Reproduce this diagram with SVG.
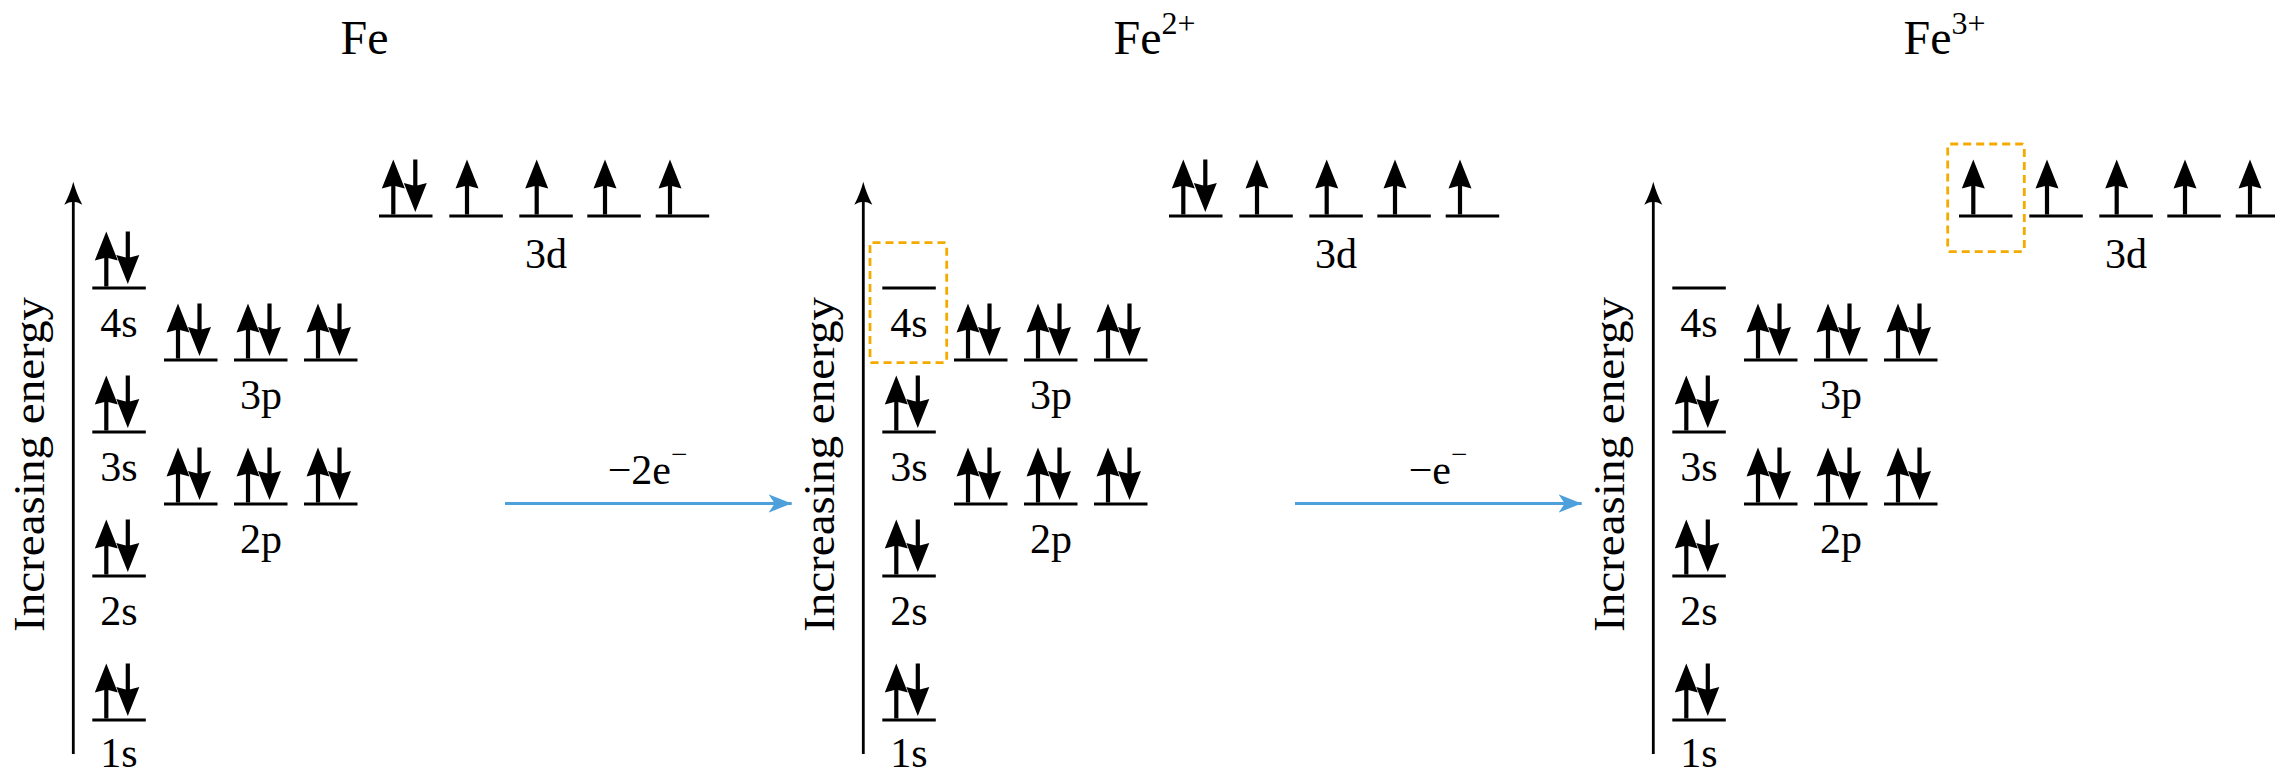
<svg xmlns="http://www.w3.org/2000/svg" xmlns:xlink="http://www.w3.org/1999/xlink" width="2275" height="769" viewBox="0 0 2275 769" font-family="Liberation Serif, DejaVu Serif, Noto Serif, FreeSerif, Nimbus Roman, Times, serif">
  <style>
    text { fill: #000; }
    .title { font-size: 48px; text-anchor: middle; }
    .lbl { font-size: 42px; text-anchor: middle; }
    .axis-lbl { font-size: 45px; text-anchor: middle; }
    .step { font-size: 42px; text-anchor: middle; }
    .lvl { stroke: #000; stroke-width: 3; }
    .shaft { stroke: #000; stroke-width: 4.2; }
    .axis { stroke: #000; stroke-width: 2.8; fill: none; }
    .hilite { fill: none; stroke: #F5AA00; stroke-width: 2.8; stroke-dasharray: 8 5; }
    .flow { stroke: #4EA0DC; stroke-width: 2.8; fill: none; }
  </style>
  <defs>
    <!-- orbital level bar, origin at its left end -->
    <line id="lvl" class="lvl" x1="0" y1="0" x2="53.5" y2="0"/>
    <!-- spin-up electron, origin at shaft x on the level -->
    <g id="eUp">
      <line class="shaft" x1="0" y1="-32" x2="0" y2="-1.5"/>
      <path d="M0,-56.5 L11.5,-27.5 L0,-30.5 L-11.5,-27.5 Z" fill="#000"/>
    </g>
    <!-- spin-down electron -->
    <g id="eDown">
      <line class="shaft" x1="0" y1="-56.5" x2="0" y2="-26"/>
      <path d="M0,-4 L11.5,-33 L0,-30 L-11.5,-33 Z" fill="#000"/>
    </g>
    <!-- filled orbital: paired electrons on a level -->
    <g id="pair">
      <use xlink:href="#lvl"/>
      <use xlink:href="#eUp" x="14" y="0"/>
      <use xlink:href="#eDown" x="35.5" y="0"/>
    </g>
    <!-- energy axis head -->
    <path id="axisHead" d="M0,0 C2,8 5,15 9,23 Q0,17 -9,23 C-5,15 -2,8 0,0 Z" fill="#000"/>
    <marker id="flowHead" markerWidth="24" markerHeight="20" refX="23" refY="10" orient="auto" markerUnits="userSpaceOnUse">
      <path d="M0,1 L23,10 L0,19 L6,10 Z" fill="#4EA0DC"/>
    </marker>
    <!-- energy axis with its caption -->
    <g id="energyAxis">
      <line class="axis" x1="73.3" y1="754" x2="73.3" y2="192"/>
      <use xlink:href="#axisHead" x="73.3" y="181.7"/>
      <text class="axis-lbl" transform="translate(43.5,464.5) rotate(-90)" textLength="335" lengthAdjust="spacingAndGlyphs">Increasing energy</text>
    </g>
  </defs>

  <!-- neutral iron -->
  <g id="fe">
    <text class="title" x="364.5" y="54">Fe</text>
    <use xlink:href="#energyAxis"/>
    <g id="fe-1s"><use xlink:href="#pair" x="92.3" y="720"/><text class="lbl" x="119" y="767">1s</text></g>
    <g id="fe-2s"><use xlink:href="#pair" x="92.3" y="576"/><text class="lbl" x="119" y="624.5">2s</text></g>
    <g id="fe-3s"><use xlink:href="#pair" x="92.3" y="432"/><text class="lbl" x="119" y="480.5">3s</text></g>
    <g id="fe-4s"><use xlink:href="#pair" x="92.3" y="288"/><text class="lbl" x="119" y="336.5">4s</text></g>
    <g id="fe-2p">
      <use xlink:href="#pair" x="164" y="504"/><use xlink:href="#pair" x="234" y="504"/><use xlink:href="#pair" x="304" y="504"/>
      <text class="lbl" x="261" y="552.5">2p</text>
    </g>
    <g id="fe-3p">
      <use xlink:href="#pair" x="164" y="360"/><use xlink:href="#pair" x="234" y="360"/><use xlink:href="#pair" x="304" y="360"/>
      <text class="lbl" x="261" y="408.5">3p</text>
    </g>
    <g id="fe-3d">
      <use xlink:href="#lvl" x="379" y="216"/><use xlink:href="#lvl" x="449.3" y="216"/><use xlink:href="#lvl" x="519.3" y="216"/><use xlink:href="#lvl" x="587.3" y="216"/><use xlink:href="#lvl" x="655.7" y="216"/>
      <use xlink:href="#eUp" x="393.3" y="216"/><use xlink:href="#eDown" x="415.3" y="216"/>
      <use xlink:href="#eUp" x="467" y="216"/><use xlink:href="#eUp" x="536.7" y="216"/><use xlink:href="#eUp" x="605" y="216"/><use xlink:href="#eUp" x="670" y="216"/>
      <text class="lbl" x="546" y="268">3d</text>
    </g>
  </g>

  <!-- iron(II) -->
  <g id="fe2">
    <text class="title" x="1154.5" y="54">Fe<tspan font-size="32" dy="-20">2+</tspan></text>
    <use xlink:href="#energyAxis" x="790"/>
    <g id="fe2-1s"><use xlink:href="#pair" x="882.3" y="720"/><text class="lbl" x="909" y="767">1s</text></g>
    <g id="fe2-2s"><use xlink:href="#pair" x="882.3" y="576"/><text class="lbl" x="909" y="624.5">2s</text></g>
    <g id="fe2-3s"><use xlink:href="#pair" x="882.3" y="432"/><text class="lbl" x="909" y="480.5">3s</text></g>
    <g id="fe2-4s">
      <use xlink:href="#lvl" x="882.3" y="288"/><text class="lbl" x="909" y="336.5">4s</text>
      <rect class="hilite" x="870" y="242.7" width="76.7" height="120" rx="2.5"/>
    </g>
    <g id="fe2-2p">
      <use xlink:href="#pair" x="954" y="504"/><use xlink:href="#pair" x="1024" y="504"/><use xlink:href="#pair" x="1094" y="504"/>
      <text class="lbl" x="1051" y="552.5">2p</text>
    </g>
    <g id="fe2-3p">
      <use xlink:href="#pair" x="954" y="360"/><use xlink:href="#pair" x="1024" y="360"/><use xlink:href="#pair" x="1094" y="360"/>
      <text class="lbl" x="1051" y="408.5">3p</text>
    </g>
    <g id="fe2-3d">
      <use xlink:href="#lvl" x="1169" y="216"/><use xlink:href="#lvl" x="1239.3" y="216"/><use xlink:href="#lvl" x="1309.3" y="216"/><use xlink:href="#lvl" x="1377.3" y="216"/><use xlink:href="#lvl" x="1445.7" y="216"/>
      <use xlink:href="#eUp" x="1183.3" y="216"/><use xlink:href="#eDown" x="1205.3" y="216"/>
      <use xlink:href="#eUp" x="1257" y="216"/><use xlink:href="#eUp" x="1326.7" y="216"/><use xlink:href="#eUp" x="1395" y="216"/><use xlink:href="#eUp" x="1460" y="216"/>
      <text class="lbl" x="1336" y="268">3d</text>
    </g>
  </g>

  <!-- iron(III) -->
  <g id="fe3">
    <text class="title" x="1944.5" y="54">Fe<tspan font-size="32" dy="-20">3+</tspan></text>
    <use xlink:href="#energyAxis" x="1580"/>
    <g id="fe3-1s"><use xlink:href="#pair" x="1672.3" y="720"/><text class="lbl" x="1699" y="767">1s</text></g>
    <g id="fe3-2s"><use xlink:href="#pair" x="1672.3" y="576"/><text class="lbl" x="1699" y="624.5">2s</text></g>
    <g id="fe3-3s"><use xlink:href="#pair" x="1672.3" y="432"/><text class="lbl" x="1699" y="480.5">3s</text></g>
    <g id="fe3-4s"><use xlink:href="#lvl" x="1672.3" y="288"/><text class="lbl" x="1699" y="336.5">4s</text></g>
    <g id="fe3-2p">
      <use xlink:href="#pair" x="1744" y="504"/><use xlink:href="#pair" x="1814" y="504"/><use xlink:href="#pair" x="1884" y="504"/>
      <text class="lbl" x="1841" y="552.5">2p</text>
    </g>
    <g id="fe3-3p">
      <use xlink:href="#pair" x="1744" y="360"/><use xlink:href="#pair" x="1814" y="360"/><use xlink:href="#pair" x="1884" y="360"/>
      <text class="lbl" x="1841" y="408.5">3p</text>
    </g>
    <g id="fe3-3d">
      <use xlink:href="#lvl" x="1959" y="216"/><use xlink:href="#lvl" x="2029.3" y="216"/><use xlink:href="#lvl" x="2099.3" y="216"/><use xlink:href="#lvl" x="2167.3" y="216"/><use xlink:href="#lvl" x="2235.7" y="216"/>
      <use xlink:href="#eUp" x="1973.3" y="216"/>
      <use xlink:href="#eUp" x="2047" y="216"/><use xlink:href="#eUp" x="2116.7" y="216"/><use xlink:href="#eUp" x="2185" y="216"/><use xlink:href="#eUp" x="2250" y="216"/>
      <rect class="hilite" x="1947.7" y="144" width="76.6" height="107.7" rx="2.5"/>
      <text class="lbl" x="2126" y="268">3d</text>
    </g>
  </g>

  <!-- ionisation steps -->
  <g id="connectors">
    <line class="flow" x1="505" y1="503.5" x2="791.7" y2="503.5" marker-end="url(#flowHead)"/>
    <text class="step" x="647.5" y="484">−2e<tspan font-size="29" dy="-20">−</tspan></text>
    <line class="flow" x1="1295" y1="503.5" x2="1581.7" y2="503.5" marker-end="url(#flowHead)"/>
    <text class="step" x="1438" y="484">−e<tspan font-size="29" dy="-20">−</tspan></text>
  </g>
</svg>
